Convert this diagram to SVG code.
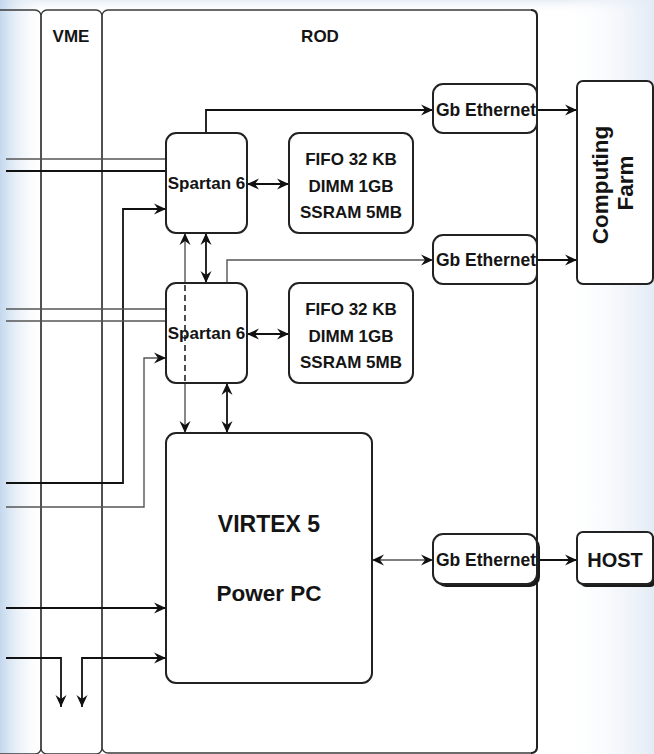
<svg xmlns="http://www.w3.org/2000/svg" width="654" height="754" viewBox="0 0 654 754">
  <defs>
    <linearGradient id="gl" x1="0" y1="0" x2="1" y2="0">
      <stop offset="0" stop-color="#c3d7ed"/>
      <stop offset="1" stop-color="#ffffff" stop-opacity="0"/>
    </linearGradient>
    <linearGradient id="gr" x1="0" y1="0" x2="1" y2="0">
      <stop offset="0" stop-color="#ffffff" stop-opacity="0"/>
      <stop offset="1" stop-color="#e3ebf5"/>
    </linearGradient>
    <linearGradient id="gt" x1="0" y1="0" x2="0" y2="1">
      <stop offset="0" stop-color="#e8eef6"/>
      <stop offset="1" stop-color="#ffffff" stop-opacity="0"/>
    </linearGradient>
    <marker id="arr" markerUnits="userSpaceOnUse" markerWidth="13" markerHeight="12" refX="12" refY="6" orient="auto-start-reverse" viewBox="0 0 13 12">
      <path d="M0,0.5 L12,6 L0,11.5 L4,6 Z" fill="#111"/>
    </marker>
    <style>
      .lane { fill: none; stroke: #3a3a3a; stroke-width: 1.3; }
      .box { fill: #ffffff; stroke: #222; stroke-width: 2; }
      .shadow { fill: #1a1a1a; }
      .t { font-family: "Liberation Sans", Arial, sans-serif; font-weight: bold; fill: #141414; text-anchor: middle; }
      .c { fill: none; stroke: #111; stroke-width: 1.8; }
      .cg { fill: none; stroke: #555; stroke-width: 1.4; }
      .ca { marker-end: url(#arr); }
      .cb { marker-start: url(#arr); marker-end: url(#arr); }
    </style>
  </defs>

  <!-- background -->
  <rect x="0" y="0" width="654" height="754" fill="#ffffff"/>
  <rect x="0" y="0" width="654" height="14" fill="url(#gt)"/>
  <rect x="0" y="0" width="44" height="754" fill="url(#gl)"/>
  <rect x="560" y="0" width="94" height="754" fill="url(#gr)"/>

  <!-- lanes -->
  <g id="lanes">
    <rect class="lane" x="-60" y="10" width="101" height="744" rx="6"/>
    <g id="vme">
      <rect class="lane" x="41" y="10" width="61" height="744" rx="6"/>
      <text class="t" x="71" y="42" font-size="17">VME</text>
    </g>
    <g id="rod">
      <rect class="lane" x="102" y="10" width="435" height="743" rx="6"/>
      <path d="M531,10 Q537,10 537,16 L537,747 Q537,753 531,753" fill="none" stroke="#222" stroke-width="2"/>
      <text class="t" x="320" y="42" font-size="17">ROD</text>
    </g>
  </g>

  <!-- connectors -->
  <g id="connectors">
    <!-- left inputs to Spartan 1 -->
    <path class="cg" d="M6,159 H166"/>
    <path class="c" d="M6,171 H166"/>
    <path class="c ca" d="M6,483 H123 V209 H166"/>
    <!-- left inputs to Spartan 2 -->
    <path class="cg" d="M6,309 H166"/>
    <path class="cg" d="M6,321 H166"/>
    <path class="cg ca" d="M6,507 H144 V358 H166"/>
    <!-- left inputs to Virtex -->
    <path class="c ca" d="M6,608 H166"/>
    <path class="c ca" d="M6,658 H61 V707"/>
    <path class="c cb" d="M82,707 V658 H166"/>

    <!-- Spartan to Gb Ethernet -->
    <path class="c ca" d="M206,133 V110 H433"/>
    <path class="cg ca" d="M227,283 V260 H433"/>
    <!-- Gb Ethernet to outside -->
    <path class="c ca" d="M537,110 H577"/>
    <path class="c ca" d="M537,260 H577"/>
    <path class="c ca" d="M537,560 H577"/>
    <!-- Virtex to Gb Ethernet -->
    <path class="cg cb" d="M372,560 H433"/>

    <!-- Spartan to memories -->
    <path class="c cb" d="M247,184 H289"/>
    <path class="c cb" d="M247,334 H289"/>

    <!-- vertical links -->
    <path class="c cb" d="M206,233 V283"/>
    <path class="c cb" d="M227,383 V433"/>
    <path class="cg" d="M185,233 V283"/>
    <path class="cg" d="M185,383 V433"/>
    <path d="M185,233 V283" stroke="none" marker-start="url(#arr)"/>
    <path d="M185,383 V433" stroke="none" marker-end="url(#arr)"/>
  </g>

  <!-- nodes -->
  <g id="spartan1">
    <rect class="box" x="166" y="133" width="81" height="100" rx="10"/>
    <text class="t" x="206.5" y="189" font-size="17">Spartan 6</text>
  </g>
  <g id="mem1">
    <rect class="box" x="289" y="133" width="124" height="100" rx="10"/>
    <text class="t" x="351" y="165" font-size="17">FIFO 32 KB</text>
    <text class="t" x="351" y="192" font-size="17">DIMM 1GB</text>
    <text class="t" x="351" y="218" font-size="17">SSRAM 5MB</text>
  </g>
  <g id="spartan2">
    <rect class="box" x="166" y="283" width="81" height="100" rx="10"/>
    <path d="M185,285 V381" stroke="#222" stroke-width="1.6" stroke-dasharray="6,4"/>
    <text class="t" x="206.5" y="339" font-size="17">Spartan 6</text>
  </g>
  <g id="mem2">
    <rect class="box" x="289" y="283" width="124" height="100" rx="10"/>
    <text class="t" x="351" y="315" font-size="17">FIFO 32 KB</text>
    <text class="t" x="351" y="342" font-size="17">DIMM 1GB</text>
    <text class="t" x="351" y="368" font-size="17">SSRAM 5MB</text>
  </g>
  <g id="virtex">
    <rect class="box" x="166" y="433" width="206" height="250" rx="10"/>
    <text class="t" x="269" y="532" font-size="23">VIRTEX 5</text>
    <text class="t" x="269" y="601" font-size="22.5">Power PC</text>
  </g>
  <g id="gb1">
    <rect class="box" x="433" y="84" width="104" height="49" rx="10"/>
    <text class="t" x="486" y="116" font-size="17.5">Gb Ethernet</text>
  </g>
  <g id="gb2">
    <rect class="box" x="433" y="235" width="104" height="49" rx="10"/>
    <text class="t" x="486" y="266" font-size="17.5">Gb Ethernet</text>
  </g>
  <g id="gb3">
    <rect class="shadow" x="436" y="537" width="104" height="50" rx="10"/>
    <rect class="box" x="433" y="534" width="104" height="50" rx="10"/>
    <text class="t" x="486" y="566" font-size="17.5">Gb Ethernet</text>
  </g>
  <g id="farm">
    <rect class="box" x="577" y="81" width="76" height="203" rx="6"/>
    <g transform="translate(615,185) rotate(-90)">
      <text class="t" x="0" y="-7" font-size="22.5">Computing</text>
      <text class="t" x="2" y="18" font-size="22.5">Farm</text>
    </g>
  </g>
  <g id="host">
    <rect class="shadow" x="580" y="535" width="76" height="52" rx="6"/>
    <rect class="box" x="577" y="532" width="76" height="52" rx="6"/>
    <text class="t" x="615" y="567" font-size="20">HOST</text>
  </g>
</svg>
